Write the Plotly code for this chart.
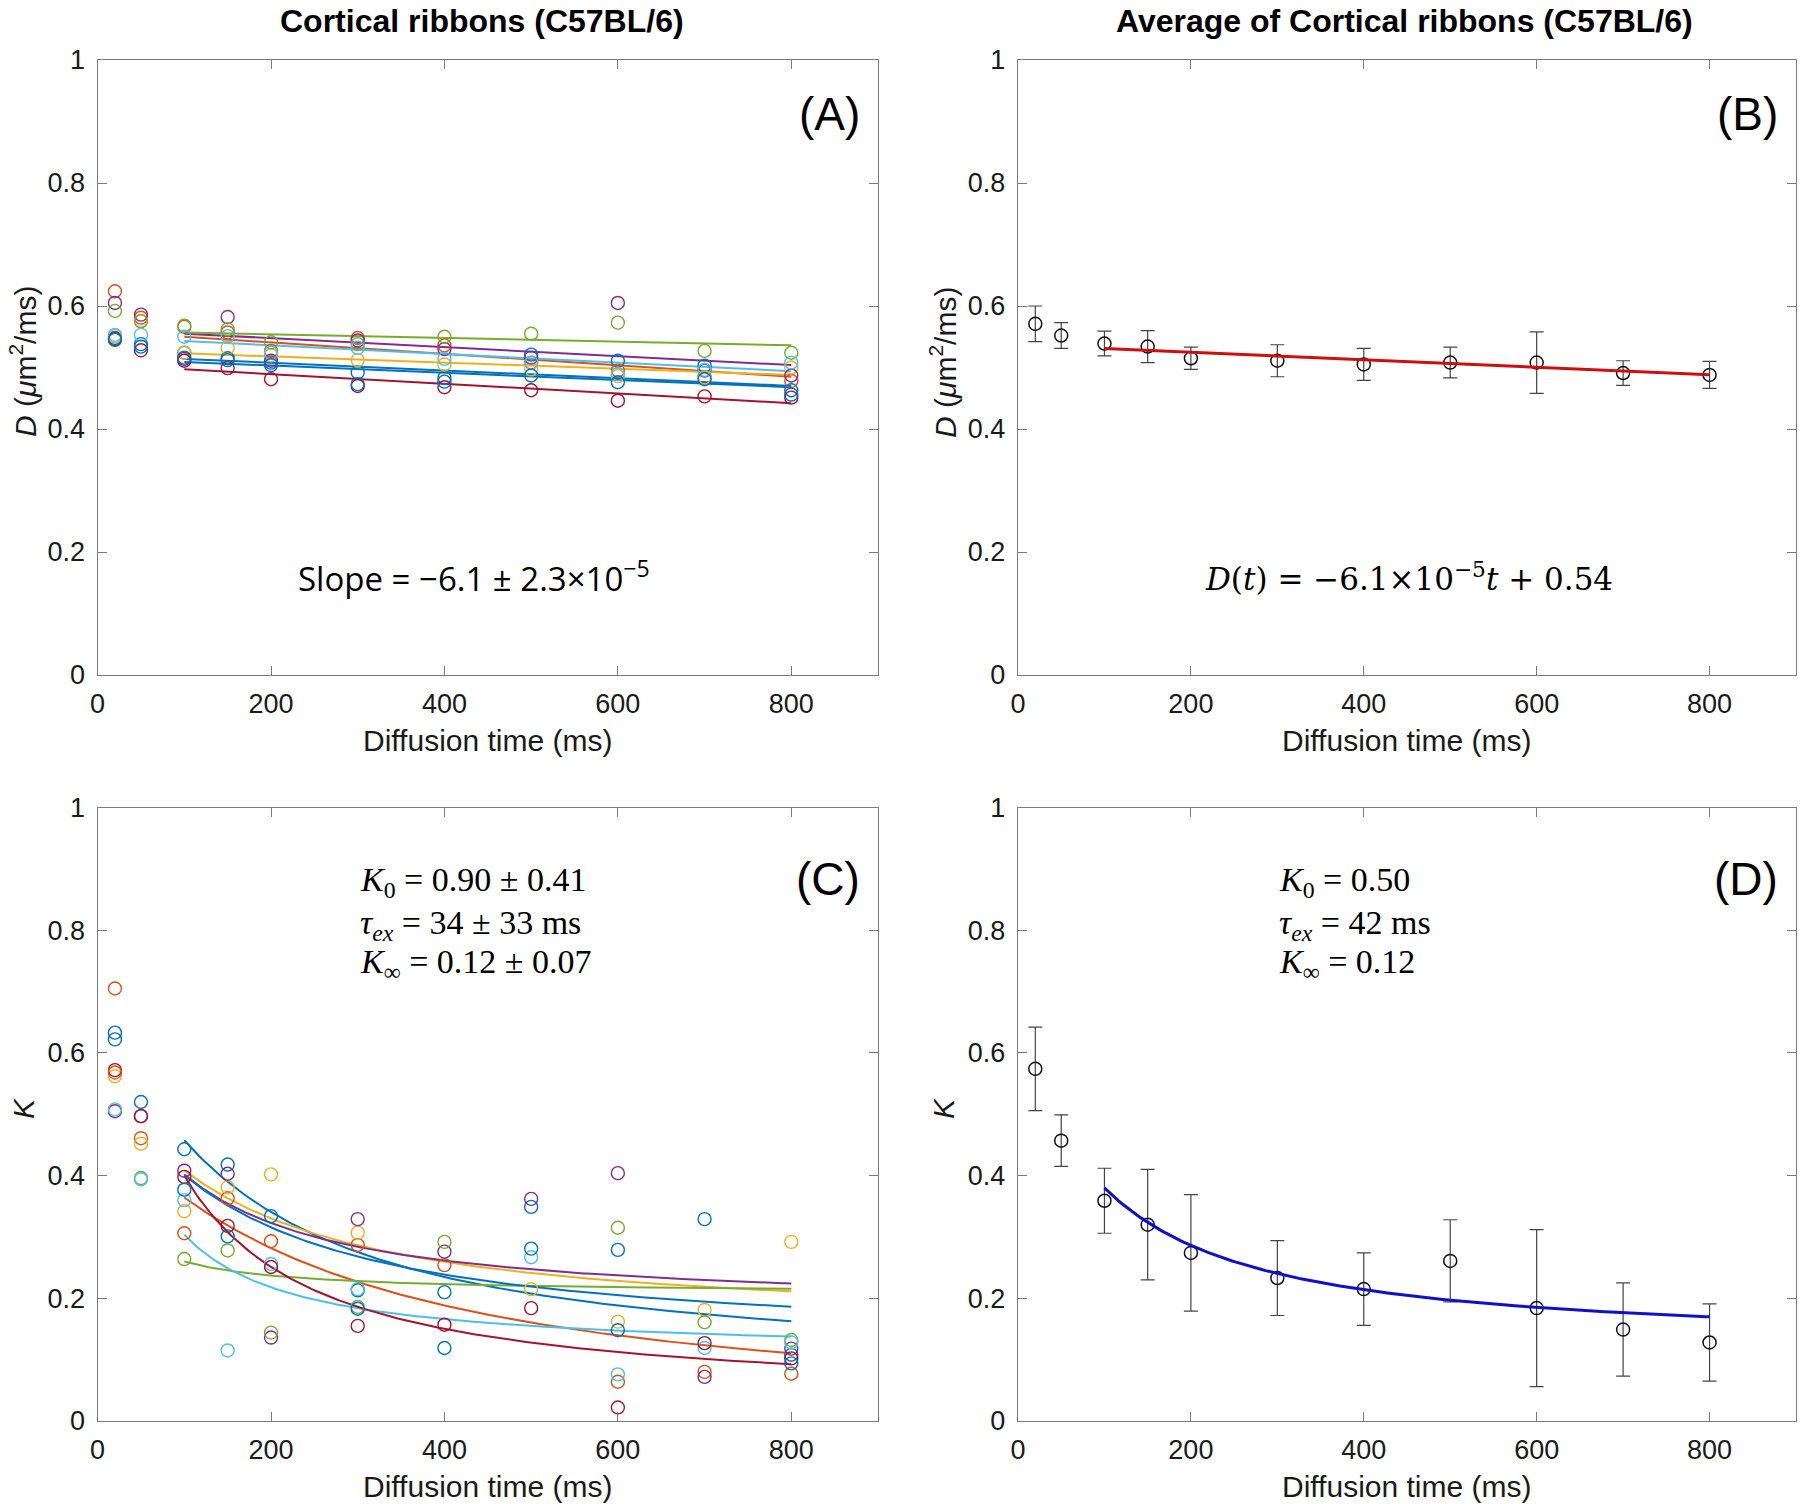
import numpy as np
import plotly.graph_objects as go

# ---------------- data ----------------
T = [20, 50, 100, 150, 200, 300, 400, 500, 600, 700, 800]

# Panel A: per-subject D values (um^2/ms)
D_S1 = [0.548, 0.538, 0.524, 0.515, 0.508, 0.492, 0.483, 0.521, 0.511, 0.503, 0.463]
D_S2 = [0.624, 0.581, 0.566, 0.557, 0.527, 0.548, 0.536, 0.508, 0.495, 0.484, 0.478]
D_S3 = [0.551, 0.576, 0.524, 0.532, 0.520, 0.512, 0.505, 0.497, 0.486, 0.484, 0.500]
D_S4 = [0.605, 0.586, 0.514, 0.582, 0.511, 0.544, 0.530, 0.516, 0.605, 0.495, 0.487]
D_S5 = [0.592, 0.575, 0.568, 0.562, 0.541, 0.538, 0.550, 0.555, 0.573, 0.527, 0.524]
D_S6 = [0.553, 0.553, 0.550, 0.551, 0.524, 0.532, 0.514, 0.508, 0.489, 0.496, 0.508]
D_S7 = [0.546, 0.528, 0.511, 0.499, 0.481, 0.470, 0.468, 0.463, 0.446, 0.453, 0.451]
D_S8 = [0.545, 0.534, 0.516, 0.512, 0.504, 0.473, 0.477, 0.487, 0.476, 0.481, 0.456]
D_SUBJECTS = [D_S1, D_S2, D_S3, D_S4, D_S5, D_S6, D_S7, D_S8]

# Panel A: linear fits per subject (slope per ms, intercept)
D_FIT_SLOPE = [-6.29e-5, -9.29e-5, -5.0e-5, -7.29e-5, -3.0e-5, -7.0e-5, -7.86e-5, -5.86e-5]
D_FIT_INT = [0.5203, 0.5593, 0.5280, 0.5623, 0.5600, 0.5500, 0.5049, 0.5149]

# Panel C: per-subject K values
K_S1 = [0.633, 0.520, 0.443, 0.418, 0.334, 0.213, 0.210, 0.349, 0.279, 0.329, 0.108]
K_S2 = [0.705, 0.461, 0.306, 0.363, 0.293, 0.287, 0.254, None, 0.064, 0.080, 0.077]
K_S3 = [0.562, 0.452, 0.342, 0.381, 0.402, 0.307, None, 0.215, 0.162, 0.181, 0.292]
K_S4 = [0.505, 0.497, 0.408, 0.403, 0.136, 0.329, 0.276, 0.362, 0.404, 0.072, 0.118]
K_S5 = [None, 0.396, 0.264, 0.278, 0.144, 0.186, 0.292, None, 0.315, 0.161, 0.132]
K_S6 = [0.508, 0.394, 0.360, 0.115, 0.256, 0.215, None, 0.267, 0.076, 0.119, 0.128]
K_S7 = [0.572, 0.497, 0.398, 0.318, 0.251, 0.155, 0.157, 0.184, 0.022, 0.127, 0.102]
K_S8 = [0.622, None, 0.377, 0.301, None, 0.183, 0.119, 0.281, 0.148, None, 0.094]
K_S9 = [0.568, None, None, None, None, None, None, None, None, None, None]
K_SUBJECTS = [K_S1, K_S2, K_S3, K_S4, K_S5, K_S6, K_S7, K_S8, K_S9]

# Panel C: per-subject Karger-model fits
K_FIT_K0 = [0.618, 0.491, 0.413, 0.423, 0.164, 0.610, 0.867, 0.449]
K_FIT_TAU = [60, 100, 60, 42, 20, 20, 30, 60]
K_FIT_KINF = [0.077, 0.003, 0.154, 0.182, 0.2075, 0.108, 0.030, 0.124]

# Panel B: mean D and SD
D_MEAN = [0.571, 0.552, 0.539, 0.534, 0.515, 0.511, 0.505, 0.508, 0.508, 0.491, 0.488]
D_SD = [0.029, 0.021, 0.020, 0.026, 0.018, 0.026, 0.026, 0.025, 0.050, 0.020, 0.022]
D_AVG_SLOPE = -6.1e-5
D_AVG_INT = 0.537

# Panel D: mean K and SD
K_MEAN = [0.574, 0.457, 0.359, 0.320, 0.274, 0.233, 0.215, 0.261, 0.184, 0.149, 0.128]
K_SD = [0.068, 0.042, 0.053, 0.090, 0.095, 0.061, 0.059, 0.067, 0.128, 0.076, 0.063]
K_AVG_K0 = 0.50
K_AVG_TAU = 42
K_AVG_KINF = 0.12

FIT_T_START = 100
FIT_T_END = 800

# ---------------- style ----------------
MCOL = ["#0072BD", "#D95319", "#EDB120", "#7E2F8E", "#77AC30",
        "#4DBEEE", "#A2142F"]
AX_COL = "#7a7a7a"
TXT = "#1a1a1a"
SANS = "Liberation Sans, Arial, sans-serif"
SERIF = "Liberation Serif, Times New Roman, serif"
MATHSERIF = "DejaVu Serif, Liberation Serif, serif"


def karger(t, k0, tau, kinf):
    r = tau / t
    return 2 * k0 * r * (1 - r * (1 - np.exp(-t / tau))) + kinf


fig = go.Figure()
tfit = np.linspace(FIT_T_START, FIT_T_END, 200)

# Panel A
for i, (s, b) in enumerate(zip(D_FIT_SLOPE, D_FIT_INT)):
    fig.add_trace(go.Scatter(x=tfit, y=s * tfit + b, mode="lines",
                             line=dict(color=MCOL[i % 7], width=2),
                             xaxis="x", yaxis="y", showlegend=False))
for i, d in enumerate(D_SUBJECTS):
    fig.add_trace(go.Scatter(x=T, y=d, mode="markers",
                             marker=dict(symbol="circle-open", size=13, color=MCOL[i % 7],
                                         line=dict(width=1.4)),
                             xaxis="x", yaxis="y", showlegend=False))

# Panel B
fig.add_trace(go.Scatter(x=T, y=D_MEAN, mode="markers",
                         marker=dict(symbol="circle-open", size=13, color="#111",
                                     line=dict(width=1.5)),
                         error_y=dict(type="data", array=D_SD, visible=True,
                                      thickness=1.2, width=7, color="#444"),
                         xaxis="x2", yaxis="y2", showlegend=False))
fig.add_trace(go.Scatter(x=tfit, y=D_AVG_SLOPE * tfit + D_AVG_INT, mode="lines",
                         line=dict(color="#CC1010", width=3),
                         xaxis="x2", yaxis="y2", showlegend=False))

# Panel C
for i, (k0, tau, kinf) in enumerate(zip(K_FIT_K0, K_FIT_TAU, K_FIT_KINF)):
    fig.add_trace(go.Scatter(x=tfit, y=karger(tfit, k0, tau, kinf), mode="lines",
                             line=dict(color=MCOL[i % 7], width=2),
                             xaxis="x3", yaxis="y3", showlegend=False))
for i, k in enumerate(K_SUBJECTS):
    fig.add_trace(go.Scatter(x=T, y=k, mode="markers",
                             marker=dict(symbol="circle-open", size=13, color=MCOL[i % 7],
                                         line=dict(width=1.4)),
                             xaxis="x3", yaxis="y3", showlegend=False))

# Panel D
fig.add_trace(go.Scatter(x=T, y=K_MEAN, mode="markers",
                         marker=dict(symbol="circle-open", size=13, color="#111",
                                     line=dict(width=1.5)),
                         error_y=dict(type="data", array=K_SD, visible=True,
                                      thickness=1.2, width=7, color="#444"),
                         xaxis="x4", yaxis="y4", showlegend=False))
fig.add_trace(go.Scatter(x=tfit, y=karger(tfit, K_AVG_K0, K_AVG_TAU, K_AVG_KINF),
                         mode="lines", line=dict(color="#1010C8", width=3),
                         xaxis="x4", yaxis="y4", showlegend=False))

W, H = 1800, 1504
XD_L = [97.6 / W, 878 / W]
XD_R = [1018 / W, 1796 / W]
YD_T = [1 - 675 / H, 1 - 60 / H]
YD_B = [1 - 1421 / H, 1 - 807.5 / H]


def xax(dom, anchor):
    return dict(domain=dom, anchor=anchor, range=[0, 900], tickvals=[0, 200, 400, 600, 800],
                ticks="inside", ticklen=9, tickcolor=AX_COL, tickwidth=1.2,
                showline=True, linecolor=AX_COL, linewidth=1.4, mirror="ticks",
                showgrid=False, zeroline=False, ticklabelstandoff=4, automargin=False,
                tickfont=dict(family=SANS, size=27, color=TXT))


def yax(dom, anchor):
    return dict(domain=dom, anchor=anchor, range=[0, 1],
                tickvals=[0, 0.2, 0.4, 0.6, 0.8, 1], ticktext=["0", "0.2", "0.4", "0.6", "0.8", "1"],
                ticks="inside", ticklen=9, tickcolor=AX_COL, tickwidth=1.2,
                showline=True, linecolor=AX_COL, linewidth=1.4, mirror="ticks",
                showgrid=False, zeroline=False, ticklabelstandoff=6, automargin=False,
                tickfont=dict(family=SANS, size=27, color=TXT))


fig.update_layout(
    template="none",
    width=W, height=H, margin=dict(l=0, r=0, t=0, b=0, pad=0, autoexpand=False),
    paper_bgcolor="white", plot_bgcolor="white",
    xaxis=xax(XD_L, "y"), yaxis=yax(YD_T, "x"),
    xaxis2=xax(XD_R, "y2"), yaxis2=yax(YD_T, "x2"),
    xaxis3=xax(XD_L, "y3"), yaxis3=yax(YD_B, "x3"),
    xaxis4=xax(XD_R, "y4"), yaxis4=yax(YD_B, "x4"),
)


def pann(text, xp, yp, size, family=SANS, angle=0, color="#000"):
    return dict(text=text, x=xp / W, y=1 - yp / H, xref="paper", yref="paper",
                xanchor="center", yanchor="middle", showarrow=False, textangle=angle,
                font=dict(family=family, size=size, color=color))


ann = []
# titles
ann.append(pann("<b>Cortical ribbons (C57BL/6)</b>", 482, 21, 32))
ann.append(pann("<b>Average of Cortical ribbons (C57BL/6)</b>", 1404, 21, 32))
# x-axis titles
for xc, yc in [(488, 740), (1407, 740), (488, 1486), (1407, 1486)]:
    ann.append(pann("Diffusion time (ms)", xc, yc, 30, color=TXT))
# y-axis titles
for xc in [23, 943]:
    ann.append(pann("<i>D</i> (<i>μ</i>m<sup>2</sup>/ms)", xc, 362, 30, angle=-90, color=TXT))
    ann.append(pann("<i>K</i>", xc, 1108, 30, angle=-90, color=TXT))
# panel labels
for lab, xr, yr, yy in [("(A)", "x", "y", 0.912), ("(B)", "x2", "y2", 0.912),
                        ("(C)", "x3", "y3", 0.884), ("(D)", "x4", "y4", 0.884)]:
    ann.append(dict(text=lab, x=882, y=yy, xref=xr, yref=yr, xanchor="right", yanchor="middle",
                    showarrow=False, font=dict(family=SANS, size=46, color="#000")))
# formula annotations
ann.append(dict(text="Slope = −6.1 ± 2.3×10<sup>−5</sup>", x=434, y=0.16, xref="x", yref="y",
                xanchor="center", yanchor="middle", showarrow=False,
                font=dict(family="Open Sans, Lato, sans-serif", size=33, color="#000")))
ann.append(dict(text="<i>D</i>(<i>t</i>) = −6.1×10<sup>−5</sup><i>t</i> + 0.54", x=452, y=0.16,
                xref="x2", yref="y2", xanchor="center", yanchor="middle", showarrow=False,
                font=dict(family=MATHSERIF, size=31, color="#000")))
for txt, yy in [("<i>K</i><sub>0</sub> = 0.90 ± 0.41", 0.879),
                ("<i>τ<sub>ex</sub></i> = 34 ± 33 ms", 0.808),
                ("<i>K</i><sub>∞</sub> = 0.12 ± 0.07", 0.745)]:
    ann.append(dict(text=txt, x=300, y=yy, xref="x3", yref="y3", xanchor="left", yanchor="middle",
                    showarrow=False, font=dict(family=SERIF, size=34, color="#000")))
for txt, yy in [("<i>K</i><sub>0</sub> = 0.50", 0.879),
                ("<i>τ<sub>ex</sub></i> = 42 ms", 0.808),
                ("<i>K</i><sub>∞</sub> = 0.12", 0.745)]:
    ann.append(dict(text=txt, x=300, y=yy, xref="x4", yref="y4", xanchor="left", yanchor="middle",
                    showarrow=False, font=dict(family=SERIF, size=34, color="#000")))

fig.update_layout(annotations=ann)
fig.write_html("out.html", config={"displayModeBar": False},
               post_script="document.body.style.margin='0';document.body.style.overflow='hidden';")
